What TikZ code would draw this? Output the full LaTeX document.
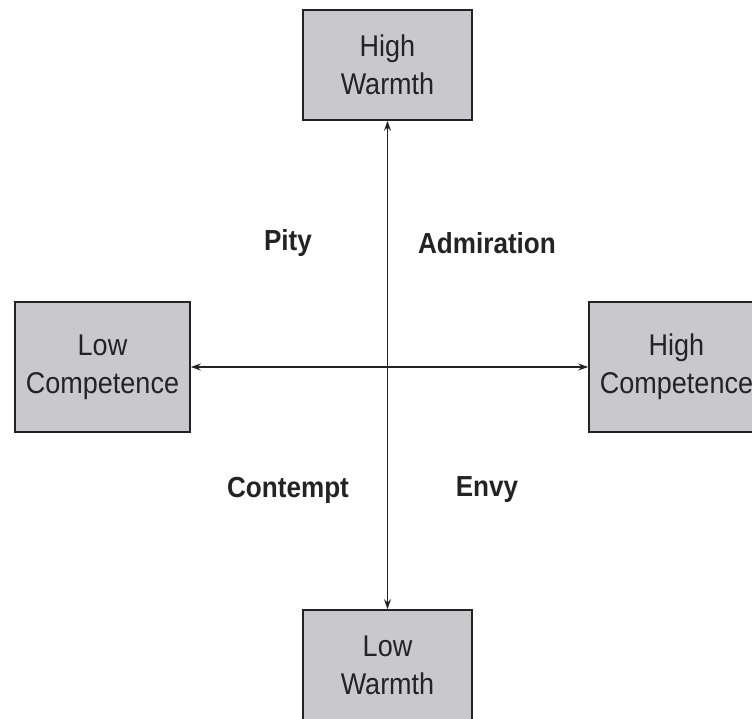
\documentclass[tikz,border=0pt]{standalone}
\usepackage{fontspec}
\setmainfont{Liberation Sans}[FakeStretch=0.9]
\usetikzlibrary{arrows.meta}
\definecolor{boxgray}{RGB}{201,201,205}
\definecolor{inkgray}{RGB}{35,35,38}
\begin{document}
\begin{tikzpicture}[x=1pt, y=1pt,
  dimbox/.style={draw=inkgray, line width=1.6pt, fill=boxgray, align=center,
    inner sep=0pt, font=\fontsize{30}{38}\selectfont, text=inkgray},
  feeling/.style={font=\bfseries\fontsize{29}{32}\selectfont, text=inkgray},
  axis/.style={draw=inkgray, line width=1.4pt, {Stealth[length=10pt,width=7pt]}-{Stealth[length=10pt,width=7pt]}}]
\useasboundingbox (0,0) rectangle (752,718);
\clip (0,0) rectangle (752,718);

% Boxes
\node[dimbox, minimum width=169, minimum height=110] (hw) at (387.5,653) {High\\Warmth};
\node[dimbox, minimum width=169, minimum height=110] (lw) at (387.5,53) {Low\\Warmth};
\node[dimbox, minimum width=175, minimum height=130] (lc) at (102.5,351) {Low\\Competence};
\node[dimbox, minimum width=175, minimum height=130] (hc) at (676.5,351) {High\\Competence};

% Axes
\draw[axis] (hw.south) -- (lw.north);
\draw[axis] (lc.east) -- (hc.west);

% Quadrants
\node[feeling] (pity) at (288,475) {Pity};
\node[feeling] (adm) at (487,475) {Admiration};
\node[feeling] (cont) at (288,228) {Contempt};
\node[feeling] (envy) at (487,228) {Envy};
\end{tikzpicture}
\end{document}
